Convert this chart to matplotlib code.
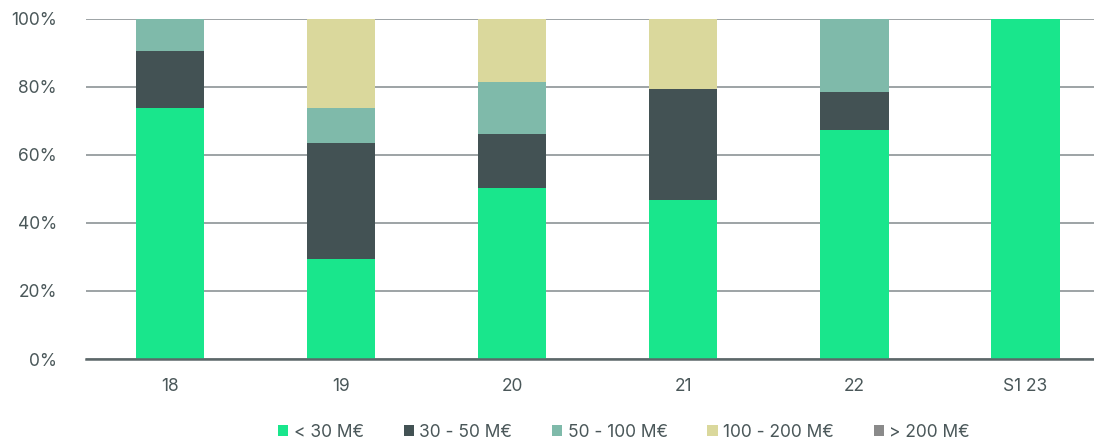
import numpy as np
import matplotlib.pyplot as plt
from matplotlib.patches import Patch

categories = ['18', '19', '20', '21', '22', 'S1 23']
series_names = ['< 30 M€', '30 - 50 M€', '50 - 100 M€', '100 - 200 M€', '> 200 M€']
lt30 = [73.7, 29.3, 50.2, 46.6, 67.4, 100.0]
s30_50 = [16.9, 34.0, 15.8, 32.7, 10.9, 0.0]
s50_100 = [9.4, 10.4, 15.4, 0.0, 21.7, 0.0]
s100_200 = [0.0, 26.3, 18.6, 20.7, 0.0, 0.0]
gt200 = [0.0, 0.0, 0.0, 0.0, 0.0, 0.0]

colors = ['#19e68c', '#435254', '#7fbaaa', '#dad89c', '#8a8a8a']
text_color = '#4a5759'

plt.rcParams['font.family'] = ['Inter', 'DejaVu Sans']

fig = plt.figure(figsize=(10.94, 4.44), dpi=100)
ax = fig.add_axes([86 / 1094, 1 - 359 / 444, 1 - 86 / 1094, (359 - 18.5) / 444])

x = np.arange(len(categories))
bottom = np.zeros(len(categories))
for name, vals, c in zip(series_names, [lt30, s30_50, s50_100, s100_200, gt200], colors):
    vals = np.array(vals)
    ax.bar(x, vals, width=0.4, bottom=bottom, color=c, label=name, zorder=3)
    bottom += vals

ax.set_xlim(-0.49, 5.40)
ax.set_ylim(0, 100)
ax.set_yticks(np.arange(0, 101, 20))
ax.set_yticklabels([f'{v}%' for v in range(0, 101, 20)])
ax.set_xticks(x)
ax.set_xticklabels(categories)
ax.yaxis.grid(True, color='#959c9e', linewidth=1.3, zorder=0)
for s in ['top', 'right', 'left']:
    ax.spines[s].set_visible(False)
ax.spines['bottom'].set_color('#5c6769')
ax.spines['bottom'].set_linewidth(1.8)
ax.spines['bottom'].set_zorder(4)
ax.tick_params(axis='both', length=0, labelsize=12.5, colors=text_color)
ax.tick_params(axis='y', pad=21)
ax.tick_params(axis='x', pad=14)

handles = [Patch(facecolor=c) for c in colors]
fig.legend(handles, series_names, loc='center', bbox_to_anchor=(624 / 1094, 1 - 432 / 444),
           ncol=5, frameon=False, fontsize=12.5, labelcolor=text_color,
           handlelength=0.6, handleheight=0.6, handletextpad=0.3, columnspacing=2.3)

fig.savefig('out.png', dpi=100)
